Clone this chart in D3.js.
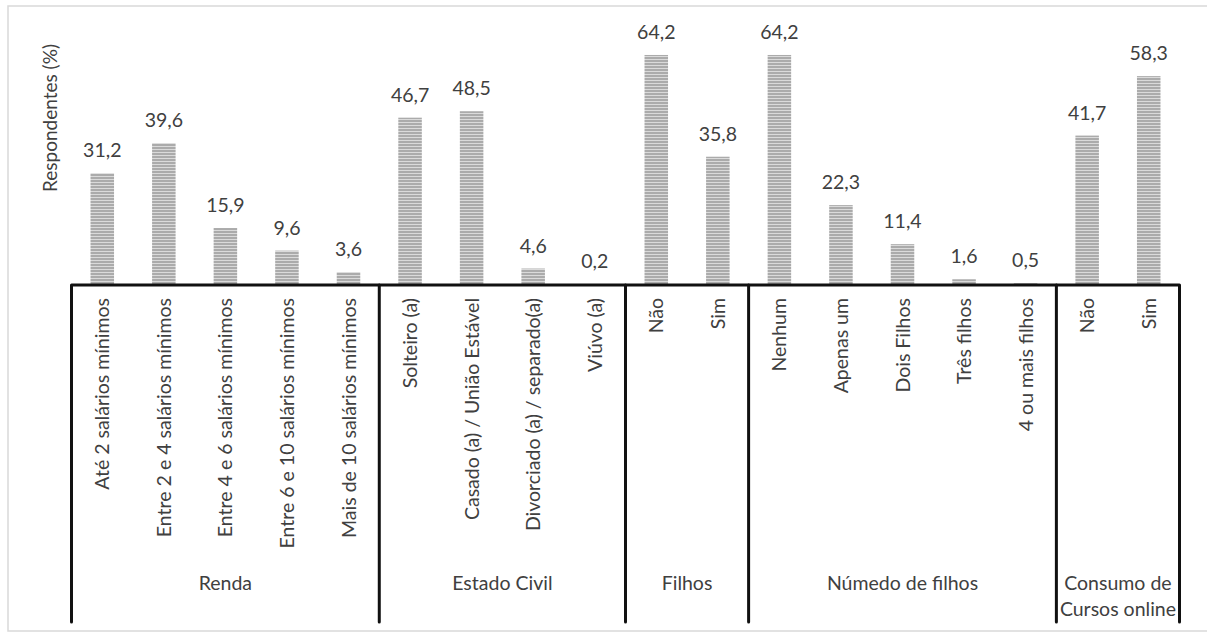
<!DOCTYPE html>
<html>
<head>
<meta charset="utf-8">
<script src="https://cdn.jsdelivr.net/npm/d3@7"></script>
<style>
  html, body { margin: 0; padding: 0; background: #fff; }
  svg { display: block; }
  text { font-family: Lato, "Open Sans", sans-serif; fill: #404040; }
</style>
</head>
<body>
<svg id="chart" width="1207" height="634"></svg>
<script>
// Respondent profile, percentages per answer
const groupNames = [["Renda"], ["Estado Civil"], ["Filhos"], ["Númedo de filhos"], ["Consumo de", "Cursos online"]];
const groupSizes = [5, 4, 2, 5, 2];
const categories = [
  "Até 2 salários mínimos", "Entre 2 e 4 salários mínimos", "Entre 4 e 6 salários mínimos",
  "Entre 6 e 10 salários mínimos", "Mais de 10 salários mínimos",
  "Solteiro (a)", "Casado (a) / União Estável", "Divorciado (a) / separado(a)", "Viúvo (a)",
  "Não", "Sim",
  "Nenhum", "Apenas um", "Dois Filhos", "Três filhos", "4 ou mais filhos",
  "Não", "Sim"
];
const values = [31.2, 39.6, 15.9, 9.6, 3.6, 46.7, 48.5, 4.6, 0.2, 64.2, 35.8, 64.2, 22.3, 11.4, 1.6, 0.5, 41.7, 58.3];
const yMax = 70;
const yTitle = "Respondentes (%)";

const svg = d3.select("#chart");

// striped fill for the bars
const defs = svg.append("defs");
const pat = defs.append("pattern")
  .attr("id", "stripes").attr("patternUnits", "userSpaceOnUse")
  .attr("width", 8).attr("height", 3);
pat.append("rect").attr("width", 8).attr("height", 3).attr("fill", "#ababab");
pat.append("rect").attr("y", 2).attr("width", 8).attr("height", 1).attr("fill", "#dadada");

// outer frame
svg.append("rect")
  .attr("x", 8).attr("y", 6).attr("width", 1210).attr("height", 625)
  .attr("fill", "none").attr("stroke", "#d9d9d9").attr("stroke-width", 1.5);

const x0 = 71.5, x1 = 1179.5, base = 285, bottom = 622;
const idx = d3.range(values.length);

const x = d3.scaleBand().domain(idx).range([x0, x1])
  .paddingInner(0.618).paddingOuter(0.309);
const y = d3.scaleLinear().domain([0, yMax]).range([base, base - yMax * 3.583]);

// bars
svg.append("g").selectAll("rect").data(idx).join("rect")
  .attr("x", i => x(i))
  .attr("y", i => y(values[i]))
  .attr("width", x.bandwidth())
  .attr("height", i => y(0) - y(values[i]))
  .attr("fill", "url(#stripes)");

// value labels
svg.append("g").selectAll("text").data(idx).join("text")
  .attr("x", i => x(i) + x.bandwidth() / 2)
  .attr("y", i => y(values[i]) - 16)
  .attr("text-anchor", "middle")
  .attr("font-size", 19.5)
  .text(i => d3.format(".1f")(values[i]).replace(".", ","));

// category labels, rotated
svg.append("g").selectAll("text").data(idx).join("text")
  .attr("transform", i => `translate(${x(i) + x.bandwidth() / 2 + 7},${base + 13}) rotate(-90)`)
  .attr("text-anchor", "end")
  .attr("font-size", 19.5)
  .text(i => categories[i]);

// group boundaries
const starts = [0];
groupSizes.forEach((n, k) => starts.push(starts[k] + n));
const step = x.step();
const edgeX = k => x0 + starts[k] * step;

const axis = svg.append("g").attr("stroke", "#111").attr("stroke-width", 3)
  .attr("fill", "none").attr("stroke-linejoin", "round").attr("stroke-linecap", "round");
axis.append("path")
  .attr("d", `M${x0},${bottom}V${base}H${x1}V${bottom}`);
starts.slice(1, -1).forEach((s, k) => {
  axis.append("line")
    .attr("x1", edgeX(k + 1)).attr("x2", edgeX(k + 1))
    .attr("y1", base).attr("y2", bottom);
});

// group names
groupNames.forEach((lines, k) => {
  const cx = (edgeX(k) + edgeX(k + 1)) / 2;
  const t = svg.append("text")
    .attr("x", cx).attr("y", 590)
    .attr("text-anchor", "middle").attr("font-size", 19.5);
  lines.forEach((ln, j) => {
    t.append("tspan").attr("x", cx).attr("dy", j === 0 ? 0 : 26).text(ln);
  });
});

// axis title
svg.append("text")
  .attr("transform", `translate(57,118) rotate(-90)`)
  .attr("text-anchor", "middle")
  .attr("font-size", 19)
  .text(yTitle);
</script>
</body>
</html>
